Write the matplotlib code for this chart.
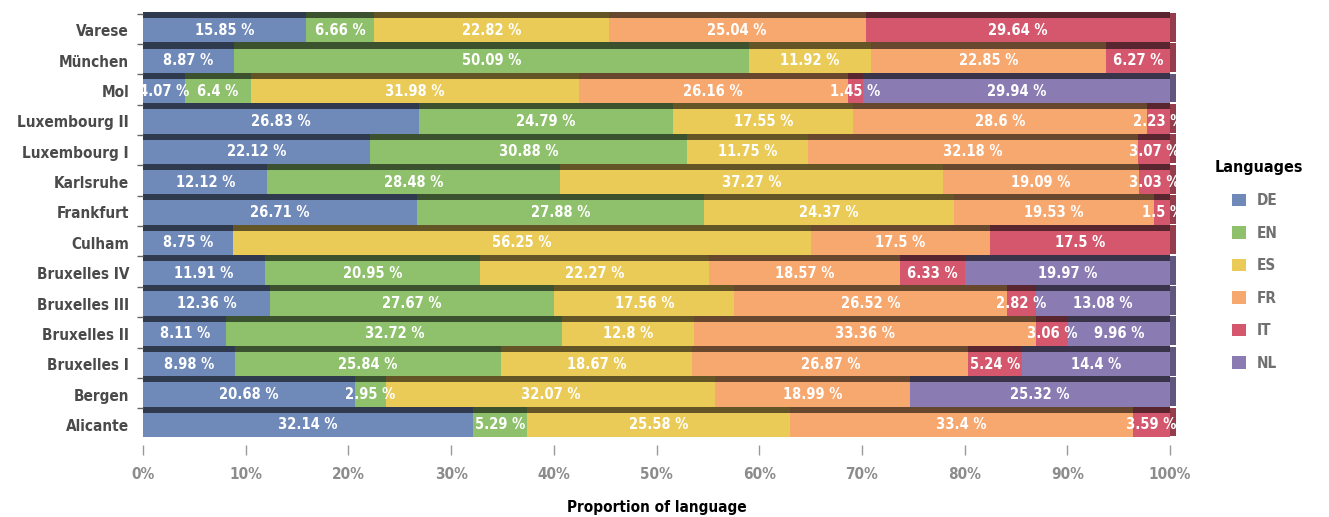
import matplotlib.pyplot as plt
import matplotlib.colors as mcolors
from matplotlib.patches import Patch
from matplotlib import font_manager

# sites bottom to top
sites = ["Alicante", "Bergen", "Bruxelles I", "Bruxelles II", "Bruxelles III",
         "Bruxelles IV", "Culham", "Frankfurt", "Karlsruhe", "Luxembourg I",
         "Luxembourg II", "Mol", "München", "Varese"]
langs = ["DE", "EN", "ES", "FR", "IT", "NL"]

de = [32.14, 20.68, 8.98, 8.11, 12.36, 11.91, 8.75, 26.71, 12.12, 22.12, 26.83, 4.07, 8.87, 15.85]
en = [5.29, 2.95, 25.84, 32.72, 27.67, 20.95, 0, 27.88, 28.48, 30.88, 24.79, 6.4, 50.09, 6.66]
es = [25.58, 32.07, 18.67, 12.8, 17.56, 22.27, 56.25, 24.37, 37.27, 11.75, 17.55, 31.98, 11.92, 22.82]
fr = [33.4, 18.99, 26.87, 33.36, 26.52, 18.57, 17.5, 19.53, 19.09, 32.18, 28.6, 26.16, 22.85, 25.04]
it = [3.59, 0, 5.24, 3.06, 2.82, 6.33, 17.5, 1.5, 3.03, 3.07, 2.23, 1.45, 6.27, 29.64]
nl = [0, 25.32, 14.4, 9.96, 13.08, 19.97, 0, 0, 0, 0, 0, 29.94, 0, 0]

colors = ["#6f89b9", "#8fc16c", "#ebcb57", "#f7a86f", "#d5576d", "#8b7bb3"]

# condensed bold face for the labels
names = {f.name for f in font_manager.fontManager.ttflist}
if "Liberation Sans Narrow" in names:
    cond = dict(family="Liberation Sans Narrow", stretch="normal")
else:
    cond = dict(family="DejaVu Sans", stretch="condensed")


def darker(c, f):
    r, g, b = mcolors.to_rgb(c)
    return (r * f, g * f, b * f)


fig = plt.figure(figsize=(13.29, 5.17), dpi=100)
ax = fig.add_axes([143 / 1329, 1 - 445 / 517, 1027 / 1329, 435 / 517])

ypos = list(range(len(sites)))
face_y = [y - 0.1 for y in ypos]
top_y = [y + 0.4 for y in ypos]

series = [de, en, es, fr, it, nl]
left = [0.0] * len(sites)
last_col = [None] * len(sites)
for vals, col in zip(series, colors):
    ax.barh(face_y, vals, left=left, height=0.8, color=col, linewidth=0)
    ax.barh(top_y, vals, left=left, height=0.2, color=darker(col, 0.42), linewidth=0)
    for i, v in enumerate(vals):
        if v > 0:
            lbl = ("%g" % v) + " %"
            ax.text(left[i] + v / 2, face_y[i], lbl, ha="center", va="center",
                    color="white", fontsize=10.5, fontweight="bold", **cond)
            last_col[i] = col
    left = [l + v for l, v in zip(left, vals)]

# right side face of the 3D bars
side = [darker(c, 0.7) for c in last_col]
ax.barh(ypos, [0.6] * len(sites), left=[100] * len(sites), height=0.95,
        color=side, linewidth=0, clip_on=False)

ax.set_xlim(0, 100)
ax.set_ylim(-0.76, 13.57)

for s in ax.spines.values():
    s.set_visible(False)

ax.set_yticks(face_y)
ax.set_yticklabels(sites, fontsize=11, fontweight="bold", color="#4a4a4a", **cond)
ax.set_yticks([y + 0.45 for y in ypos], minor=True)
ax.tick_params(axis="y", which="major", length=0, pad=10)
ax.tick_params(axis="y", which="minor", length=4, color="#666666", width=1)

ax.set_xticks(range(0, 101, 10))
ax.set_xticklabels(["%d%%" % t for t in range(0, 101, 10)], fontsize=11,
                   fontweight="bold", color="#8c8c8c", **cond)
ax.tick_params(axis="x", length=7, color="#999999", width=1, pad=9)
ax.set_xlabel("Proportion of language", fontsize=11, fontweight="bold",
              color="black", labelpad=13, **cond)

fig.text(1215 / 1329, 1 - 168 / 517, "Languages", ha="left", va="center",
         fontsize=11.5, fontweight="bold", color="black", **cond)
handles = [Patch(facecolor=c, edgecolor="none", label=l) for c, l in zip(colors, langs)]
leg = fig.legend(handles=handles, loc="upper left", bbox_to_anchor=(1226 / 1329, 1 - 187 / 517),
                 frameon=False, handlelength=0.9, handleheight=0.9,
                 labelspacing=1.15, handletextpad=0.7, borderaxespad=0,
                 prop=font_manager.FontProperties(weight="bold", size=11, **cond))
for t in leg.get_texts():
    t.set_color("#707070")

fig.savefig("out.png", dpi=100)
